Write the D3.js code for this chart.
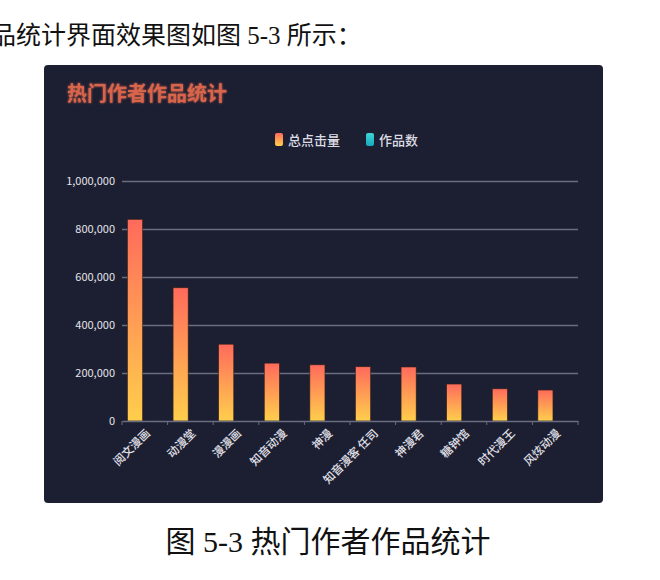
<!DOCTYPE html>
<html>
<head>
<meta charset="utf-8">
<script src="https://cdn.jsdelivr.net/npm/d3@7"></script>
<style>
  body { margin: 0; background: #fff; }
  svg { display: block; }
</style>
</head>
<body>
<div id="chart"></div>
<script>
// chart data
const categories = ["阅文漫画", "动漫堂", "漫漫画", "知音动漫", "神漫", "知音漫客 任司", "神漫君", "糖钟馆", "时代漫王", "风炫动漫"];
const seriesNames = ["总点击量", "作品数"];
const clicks = [840000, 555000, 320000, 241000, 234000, 226000, 225000, 154000, 134000, 129000];
const works = [120, 86, 64, 52, 47, 45, 44, 31, 28, 26];
const yTicks = [0, 200000, 400000, 600000, 800000, 1000000];

const W = 660, H = 580;

const svg = d3.select("#chart").append("svg")
    .attr("width", W)
    .attr("height", H);

svg.append("rect").attr("width", W).attr("height", H).attr("fill", "#fff");

// document text around the figure (first line is cut at the left in the original)
const docFont = "'Liberation Serif', 'Noto Sans CJK SC', serif";
svg.append("text")
    .attr("x", -9).attr("y", 44)
    .attr("font-family", docFont)
    .attr("font-size", 25)
    .attr("fill", "#111")
    .text("品统计界面效果图如图 5-3 所示：");

svg.append("text")
    .attr("x", 328).attr("y", 552)
    .attr("text-anchor", "middle")
    .attr("font-family", docFont)
    .attr("font-size", 30)
    .attr("fill", "#111")
    .text("图 5-3 热门作者作品统计");

// dark panel
const panel = { x: 44, y: 65, w: 559, h: 438 };
svg.append("rect")
    .attr("x", panel.x).attr("y", panel.y)
    .attr("width", panel.w).attr("height", panel.h)
    .attr("rx", 4)
    .attr("fill", "#1c1e31");

const defs = svg.append("defs");
const barGrad = defs.append("linearGradient")
    .attr("id", "barGrad")
    .attr("x1", 0).attr("y1", 0).attr("x2", 0).attr("y2", 1);
barGrad.append("stop").attr("offset", "0%").attr("stop-color", "#ff6a5c");
barGrad.append("stop").attr("offset", "100%").attr("stop-color", "#ffcf4c");

const cyanGrad = defs.append("linearGradient")
    .attr("id", "cyanGrad")
    .attr("x1", 0).attr("y1", 0).attr("x2", 0).attr("y2", 1);
cyanGrad.append("stop").attr("offset", "0%").attr("stop-color", "#3fd6d6");
cyanGrad.append("stop").attr("offset", "100%").attr("stop-color", "#16a9c0");

const glow = defs.append("filter").attr("id", "glow")
    .attr("x", "-10%").attr("y", "-30%").attr("width", "120%").attr("height", "160%");
glow.append("feGaussianBlur").attr("stdDeviation", 1.2).attr("result", "b");
const merge = glow.append("feMerge");
merge.append("feMergeNode").attr("in", "b");
merge.append("feMergeNode").attr("in", "SourceGraphic");

const font = "'Noto Sans CJK SC', sans-serif";

// title
svg.append("text")
    .attr("x", 67).attr("y", 101)
    .attr("font-family", font)
    .attr("font-size", 20)
    .attr("font-weight", "bold")
    .attr("fill", "#d8654c")
    .attr("filter", "url(#glow)")
    .text("热门作者作品统计");

// legend
const legendItems = [
    { name: seriesNames[0], fill: "url(#barGrad)", x: 275 },
    { name: seriesNames[1], fill: "url(#cyanGrad)", x: 366 }
];
const legend = svg.append("g").selectAll("g")
    .data(legendItems)
    .join("g")
    .attr("transform", d => `translate(${d.x},133)`);
legend.append("rect")
    .attr("width", 8).attr("height", 13).attr("rx", 2)
    .attr("fill", d => d.fill);
legend.append("text")
    .attr("x", 13).attr("y", 7)
    .attr("dy", "0.35em")
    .attr("font-family", font)
    .attr("font-size", 13)
    .attr("font-weight", 500)
    .attr("fill", "#dcdce4")
    .text(d => d.name);

// scales
const x = d3.scaleBand()
    .domain(categories)
    .range([122, 578]);

const xs = d3.scaleBand()
    .domain(seriesNames)
    .range([0, x.bandwidth()])
    .paddingInner(0.23)
    .paddingOuter(0.28);

const y = d3.scaleLinear()
    .domain([0, 1000000])
    .range([421, 181]);

// y axis with gridlines
const yAxis = d3.axisLeft(y)
    .tickValues(yTicks)
    .tickSize(-(x.range()[1] - x.range()[0]))
    .tickPadding(7)
    .tickFormat(d3.format(","));

const yg = svg.append("g")
    .attr("transform", `translate(${x.range()[0]},0)`)
    .call(yAxis);
yg.select(".domain").remove();
yg.selectAll(".tick line")
    .attr("stroke", "#6a6d80")
    .attr("stroke-width", 1.5)
    .filter(d => d === 0).remove();
yg.selectAll(".tick text")
    .attr("font-family", font)
    .attr("font-size", 11)
    .attr("fill", "#e4e4ea");

// bars
const bars = svg.append("g");
bars.selectAll(".bar-clicks")
    .data(categories)
    .join("rect")
    .attr("class", "bar-clicks")
    .attr("x", (d) => x(d) + xs(seriesNames[0]))
    .attr("y", (d, i) => y(clicks[i]))
    .attr("width", xs.bandwidth())
    .attr("height", (d, i) => y(0) - y(clicks[i]))
    .attr("fill", "url(#barGrad)")
    .attr("stroke", "#3a2418")
    .attr("stroke-width", 0.6);

bars.selectAll(".bar-works")
    .data(categories)
    .join("rect")
    .attr("class", "bar-works")
    .attr("x", (d) => x(d) + xs(seriesNames[1]))
    .attr("y", (d, i) => y(works[i]))
    .attr("width", xs.bandwidth())
    .attr("height", (d, i) => y(0) - y(works[i]))
    .attr("fill", "url(#cyanGrad)");

// x axis
const xg = svg.append("g")
    .attr("transform", `translate(0,${y(0)})`)
    .call(d3.axisBottom(x).tickSize(0).tickPadding(0));
xg.select(".domain")
    .attr("stroke", "#6a6d80")
    .attr("stroke-width", 1.5);
xg.selectAll(".tick text")
    .attr("font-family", font)
    .attr("font-size", 11.5)
    .attr("font-weight", 500)
    .attr("fill", "#e0e0e8")
    .attr("text-anchor", "end")
    .attr("dy", 0)
    .attr("transform", "translate(6,13) rotate(-45)");

// boundary ticks between categories
const edges = categories.map(d => x(d)).concat([x.range()[1]]);
svg.append("g").selectAll("line")
    .data(edges)
    .join("line")
    .attr("x1", d => d).attr("x2", d => d)
    .attr("y1", y(0)).attr("y2", y(0) + 4)
    .attr("stroke", "#6a6d80")
    .attr("stroke-width", 1);
</script>
</body>
</html>
